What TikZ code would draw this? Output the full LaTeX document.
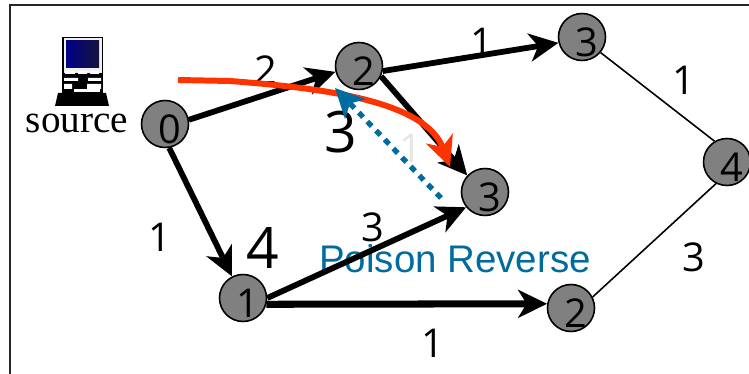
\documentclass[tikz,border=0pt]{standalone}
\usepackage{fontspec}
\setmainfont{Liberation Serif}
\newfontfamily\digitfont{Open Sans}
\newfontfamily\poisonfont{Liberation Sans}
\usepackage{xcolor}
\usepackage{tikz}
\usetikzlibrary{arrows.meta}

\definecolor{routergray}{HTML}{808080}
\definecolor{poisonblue}{HTML}{006B9F}
\definecolor{pathred}{HTML}{FF3300}
\definecolor{screenblue}{HTML}{00008B}
\definecolor{screendark}{HTML}{14143C}

\tikzset{
  digit/.style={font=\digitfont\fontsize{22.6}{23}\selectfont, inner sep=0pt},
  bigdigit/.style={font=\digitfont\fontsize{32.5}{33}\selectfont, inner sep=0pt},
  router/.style={circle, draw=black, line width=0.9pt, fill=routergray, minimum size=0.94cm, inner sep=0pt,
    label={[digit, xshift=0.09cm, yshift=-0.11cm]center:#1}},
  linkbold/.style={line width=3.3pt, -{Stealth[length=0.58cm, width=0.56cm, inset=0.17cm]}},
  linkthin/.style={line width=0.9pt},
}

\begin{document}
\begin{tikzpicture}[x=0.02cm, y=-0.02cm]
  \useasboundingbox (0,0) rectangle (749,374);
  % frame
  \draw[line width=0.9pt, black!85] (10,374) -- (10,5) -- (749,5);

  % computer
  \fill[black] (62,37) rectangle (103,75);
  \fill[black!6] (63.5,38.5) rectangle (101.5,73.5);
  \shade[left color=screenblue, right color=screendark] (66,41) rectangle (99,68);
  \fill[black] (62,75) rectangle (103,94);
  \fill[white] (65,71) rectangle (75,74) (78,71) rectangle (87,74) (90,71) rectangle (99,74);
  \fill[white] (64,78) rectangle (78,81) (88,78) rectangle (101,81);
  \fill[white] (64,84) rectangle (72,89) (87,84) rectangle (101,89);
  \fill[white] (74,89) rectangle (100,92);
  \fill[black] (58,93) -- (106,93) -- (109,106) -- (55,106) -- cycle;

  % text behind links
  \node[anchor=base, font=\fontsize{22.3}{23}\selectfont] (sourcetxt) at (77,133) {source};
  \node[font=\poisonfont\fontsize{21.9}{22}\selectfont, text=poisonblue] (poisontxt) at (455,259) {Poison Reverse};
  \node[digit, text=black!10] (fadedtxt) at (411,148) {1};
  \node[digit] (cost02) at (266,70) {2};
  \node[digit] (cost23) at (482,42) {1};
  \node[digit] (cost34) at (684,80) {1};
  \node[digit] (cost42) at (694,257) {3};
  \node[digit] (cost01) at (160,237) {1};
  \node[digit] (cost13) at (373,227) {3};
  \node[digit] (cost12) at (433,343) {1};
  \node[bigdigit] (dista) at (341,132) {3};
  \node[bigdigit] (distb) at (263,248) {4};

  % routers
  \node[router=0] (n0) at (165,124) {};
  \node[router=1] (n1) at (243,298) {};
  \node[router=2] (n2) at (359,66) {};
  \node[router=3] (n3) at (582,37) {};
  \node[router=3] (n5) at (485,192) {};
  \node[router=4] (n4) at (727,162) {};
  \node[router=2] (n6) at (571,308) {};

  % links
  \draw[linkbold] (n0.10) -- (n2.194);
  \draw[linkbold] (n2.-12) -- (n3.194);
  \draw[linkbold] (n2.-25) -- (n5.137);
  \draw[linkbold] (n0.-80) -- (n1.117);
  \draw[linkbold] (n1.0) -- (n5.219);
  \draw[linkbold, line width=4pt] (n1.-15) -- (n6.170);
  \draw[linkthin] (n3.-40) -- (n4.121);
  \draw[linkthin] (n6.27) -- (n4.243);

  % route and poison reverse
  \coordinate (redstart) at (178,80);
  \coordinate (redbend) at (230,81);
  \coordinate (redend) at (450,167);
  \coordinate (bluestart) at (441,198);
  \coordinate (blueend) at (335,88);
  \draw[pathred, line width=3.4pt, -{Stealth[length=0.6cm, width=0.56cm, inset=0.17cm]}]
    (redstart) -- (redbend) .. controls (320,88) and (425,100) .. (redend);
  \draw[poisonblue, line width=3pt, dash pattern=on 3.6pt off 3.5pt, -{Stealth[length=0.58cm, width=0.56cm, inset=0.15cm]}]
    (bluestart) -- (blueend);
\end{tikzpicture}
\end{document}
